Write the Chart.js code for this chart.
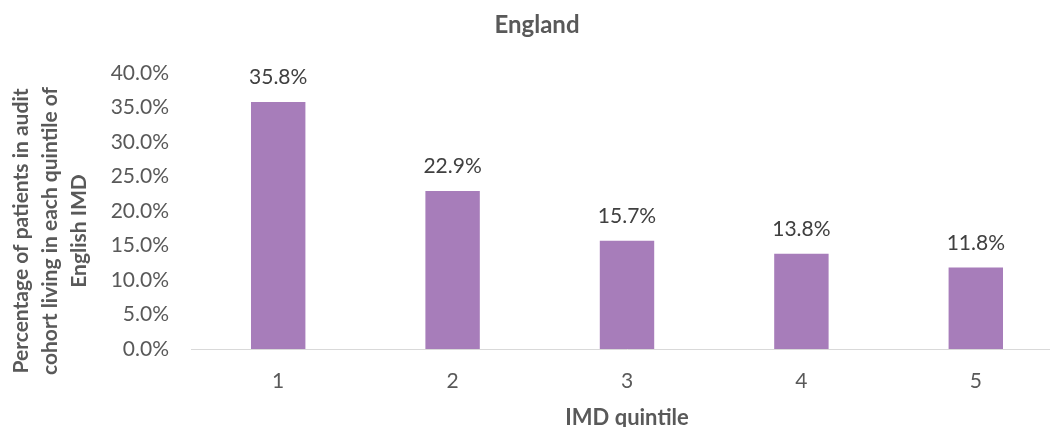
<!DOCTYPE html>
<html>
<head>
<meta charset="utf-8">
<script src="https://cdn.jsdelivr.net/npm/chart.js@4.4.0/dist/chart.umd.min.js"></script>
<style>
  html, body { margin: 0; padding: 0; background: #ffffff; overflow: hidden; }
  #wrap { width: 1063px; height: 427px; position: relative; }
</style>
</head>
<body>
<div id="wrap"><canvas id="c"></canvas></div>
<script>
const chartTitle = "England";
const categories = ["1", "2", "3", "4", "5"];
const percentages = [35.8, 22.9, 15.7, 13.8, 11.8];
const yTitleLines = ["Percentage of patients in audit", "cohort living in each quintile of", "English IMD"];
const xTitle = "IMD quintile";
const yMin = 0, yMax = 40, yStep = 5;

const FONT = "Lato";
const TEXT_GREY = "#595959";
const LABEL_GREY = "#404040";
const BAR_COLOR = "#A77DBA";

const titlePlugin = {
  id: 'customTitle',
  afterDraw(chart) {
    const ctx = chart.ctx;
    ctx.save();
    ctx.font = "bold 24px " + FONT;
    ctx.fillStyle = TEXT_GREY;
    ctx.textAlign = "center";
    ctx.textBaseline = "alphabetic";
    ctx.fillText(chartTitle, 537, 33);
    ctx.restore();
  }
};

// the reference y-axis title is centred ~20px below the plot middle
const yTitleShift = {
  id: 'yTitleShift',
  afterLayout(chart) {
    chart.scales.y.bottom += 40;
  }
};

const valueLabels = {
  id: 'valueLabels',
  afterDatasetsDraw(chart) {
    const ctx = chart.ctx;
    const meta = chart.getDatasetMeta(0);
    ctx.save();
    ctx.font = "21px " + FONT;
    ctx.fillStyle = LABEL_GREY;
    ctx.textAlign = "center";
    ctx.textBaseline = "alphabetic";
    meta.data.forEach((bar, i) => {
      ctx.fillText(percentages[i].toFixed(1) + "%", bar.x, bar.y - 17.5);
    });
    ctx.restore();
  }
};

new Chart(document.getElementById('c'), {
  type: 'bar',
  data: {
    labels: categories,
    datasets: [{
      data: percentages,
      backgroundColor: BAR_COLOR,
      borderWidth: 0,
      categoryPercentage: 1.0,
      barPercentage: 0.312
    }]
  },
  options: {
    responsive: true,
    maintainAspectRatio: false,
    animation: false,
    layout: { padding: { top: 73, right: 0, left: 0, bottom: 0 } },
    plugins: {
      legend: { display: false },
      title: { display: false },
      tooltip: { enabled: false }
    },
    scales: {
      x: {
        grid: { display: false, drawTicks: false },
        border: { display: true, color: "#D9D9D9", width: 1 },
        ticks: { color: TEXT_GREY, font: { family: FONT, size: 21 }, padding: 20 },
        title: {
          display: true, text: xTitle, color: TEXT_GREY,
          font: { family: FONT, size: 22, weight: 'bold', lineHeight: 1 },
          padding: { top: 0, bottom: -2 }
        },
        afterFit(scale) { scale.height = 78; }
      },
      y: {
        min: yMin, max: yMax,
        grid: { display: false, drawTicks: false },
        border: { display: false },
        ticks: {
          stepSize: yStep,
          color: TEXT_GREY,
          font: { family: FONT, size: 21 },
          padding: 22,
          callback: (v) => Number(v).toFixed(1) + "%"
        },
        title: {
          display: true, text: yTitleLines, color: TEXT_GREY,
          font: { family: FONT, size: 21, weight: 'bold', lineHeight: 1.38 },
          padding: { top: 7, bottom: 10 }
        },
        afterFit(scale) { scale.width = 191; }
      }
    }
  },
  plugins: [titlePlugin, yTitleShift, valueLabels]
});
</script>
</body>
</html>
